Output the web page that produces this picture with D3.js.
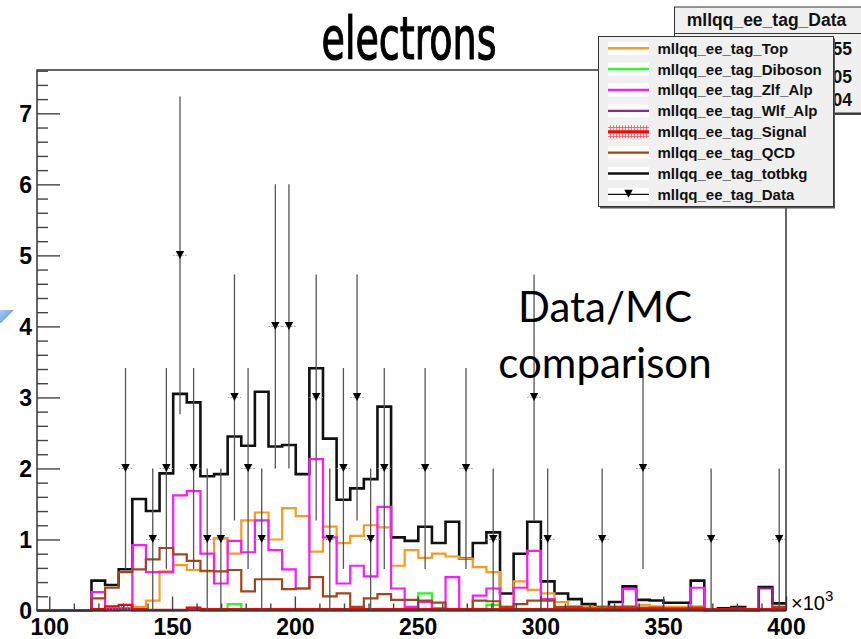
<!DOCTYPE html>
<html>
<head>
<meta charset="utf-8">
<script src="https://cdn.jsdelivr.net/npm/d3@7"></script>
<style>
body{margin:0;background:#fff;}
svg{display:block;}
</style>
</head>
<body>
<div class="graph"></div>
<script>
// x in units of 10^3, 55 bins between xMin and xMax
const xMin = 95, xMax = 400, nBins = 55;
const xTicks = [100,150,200,250,300,350,400];
const yTicks = [0,1,2,3,4,5,6,7];
const yMax = 7.61;

const binTotbkg = [0,0,0,0,0.42,0.36,0.58,1.57,1.40,1.93,
  3.05,2.93,1.89,1.92,2.45,2.32,3.08,2.31,2.33,1.92,
  3.41,2.42,1.56,1.72,1.85,2.87,1.03,0.98,1.18,0.95,
  1.25,0.73,0.95,1.10,0.24,0.80,1.25,0.41,0.24,0.16,
  0.09,0.05,0.12,0.34,0.15,0.14,0.11,0.11,0.42,0.01,
  0.03,0.05,0.01,0.33,0.10];
const binTop = [0,0,0,0,0,0,0,0.05,0.14,0.55,
  0.64,0.57,0.55,1.02,0.80,1.27,1.38,1.00,1.44,1.33,
  0.83,1.18,0.95,1.05,1.20,1.17,0.63,0.85,0.74,0.80,
  0.76,0.73,0.61,0.54,0.05,0.41,0.29,0.24,0.12,0.06,
  0.05,0.04,0.05,0.06,0.08,0.06,0.05,0.05,0.06,0.01,
  0.02,0.02,0.01,0.02,0.05];
const binDiboson = [0,0,0,0,0,0,0,0,0,0,
  0,0,0,0,0.09,0,0,0,0,0,
  0,0,0,0,0,0,0,0,0.24,0,
  0,0,0,0.08,0,0,0,0,0,0,
  0,0,0,0,0,0,0,0,0,0,
  0,0,0,0,0];
const binZlf = [0,0,0,0,0.26,0,0.03,0.92,0.54,0.54,
  1.62,1.68,0.80,0.38,0.98,0.82,1.27,0.85,0.58,0.31,
  2.13,1.03,0.38,0.63,0.48,1.46,0.31,0.05,0.12,0.03,
  0.47,0.02,0.21,0.31,0.04,0.32,0.84,0.16,0.02,0.01,
  0.01,0.01,0.01,0.30,0.01,0.01,0.01,0.01,0.32,0,
  0,0,0,0,0.01];
const binWlf = [0,0,0,0,0,0.02,0.02,0,0,0,
  0,0.02,0,0,0,0,0,0,0,0,
  0,0,0,0,0,0,0,0,0,0,
  0,0,0,0,0,0,0,0,0,0,
  0,0,0,0,0,0,0,0,0,0,
  0,0,0,0.31,0];
const binSignal = [0,0,0,0,0.02,0.06,0.08,0.02,0.01,0.01,
  0.01,0.04,0.02,0.02,0.02,0.02,0.02,0.02,0.02,0.02,
  0.02,0.02,0.02,0.02,0.02,0.02,0.02,0.02,0.02,0.02,
  0.02,0.02,0.02,0.02,0.02,0.02,0.02,0.02,0.02,0.02,
  0.02,0.02,0.02,0.02,0.02,0.02,0.02,0.02,0.02,0.02,
  0.02,0.02,0.02,0.02,0.02];
const binQCD = [0,0,0,0,0.17,0.32,0.54,0.58,0.72,0.88,
  0.79,0.70,0.56,0.55,0.57,0.27,0.44,0.44,0.30,0.31,
  0.47,0.20,0.24,0.05,0.17,0.23,0.15,0.15,0.14,0.11,
  0.02,0.02,0.14,0.13,0.05,0.09,0.14,0.14,0.05,0.05,
  0.03,0.03,0.05,0.05,0.04,0.04,0.03,0.03,0.04,0,
  0.02,0.03,0,0.02,0.05];
const dataCounts = [0,0,0,0,0,0,2,0,1,2,
  5,2,1,1,3,2,1,4,4,0,
  3,1,2,3,1,2,0,0,2,0,
  0,2,0,1,0,0,3,1,0,0,
  0,1,0,0,2,0,0,0,0,1,
  0,0,0,0,1];

const legendLabels = ["mllqq_ee_tag_Top","mllqq_ee_tag_Diboson","mllqq_ee_tag_Zlf_Alp",
  "mllqq_ee_tag_Wlf_Alp","mllqq_ee_tag_Signal","mllqq_ee_tag_QCD",
  "mllqq_ee_tag_totbkg","mllqq_ee_tag_Data"];
const statsTitle = "mllqq_ee_tag_Data";
const statsNames = ["Entries","Mean","RMS"];
const statsValues = ["55","2.105e+05","6.404e+04"];
const titleText = "electrons";
const noteLines = ["Data/MC","comparison"];

// ---------------- drawing ----------------
const width = 861, height = 639;
const frame = {left:37, right:786, top:70, bottom:610.5};

const svg = d3.select(".graph").append("svg")
  .attr("width",width).attr("height",height);

const defs = svg.append("defs");
const hatch = defs.append("pattern").attr("id","hatch")
  .attr("patternUnits","userSpaceOnUse").attr("width",3).attr("height",3);
hatch.append("path").attr("d","M1.5,0 V3 M0,1.5 H3")
  .attr("stroke","#ff5050").attr("stroke-width",0.8);
const grad = defs.append("linearGradient").attr("id","blue")
  .attr("x1",0).attr("y1",0).attr("x2",1).attr("y2",1);
grad.append("stop").attr("offset","0%").attr("stop-color","#a9cdf5");
grad.append("stop").attr("offset","100%").attr("stop-color","#4f8ad6");

const x = d3.scaleLinear().domain([xMin,xMax]).range([frame.left,frame.right]);
const y = d3.scaleLinear().domain([0,yMax]).range([frame.bottom,frame.top]);
const binW = (xMax-xMin)/nBins;
const edge = i => xMin + i*binW;

function stepPoints(vals){
  var pts=[];
  vals.forEach((v,i)=>{ pts.push([edge(i),v]); pts.push([edge(i+1),v]); });
  return pts;
}
const line = d3.line().x(d=>x(d[0])).y(d=>y(d[1]));

// histograms
var series = [
  {vals:binTotbkg, color:"#111", w:2.6},
  {vals:binTop, color:"#ff9a1f", w:2.2},
  {vals:binDiboson, color:"#22ff22", w:2.2},
  {vals:binZlf, color:"#ff19ff", w:2.2},
  {vals:binWlf, color:"#992299", w:2},
  {vals:binQCD, color:"#a3441c", w:2.2}
];
var gHist = svg.append("g");
series.forEach(s=>{
  gHist.append("path").attr("d",line(stepPoints(s.vals)))
    .attr("fill","none").attr("stroke",s.color).attr("stroke-width",s.w);
});
// signal with hatched fill
var sigPts = stepPoints(binSignal);
var area = d3.area().x(d=>x(d[0])).y0(y(0)).y1(d=>y(d[1]));
gHist.append("path").attr("d",area(sigPts)).attr("fill","url(#hatch)");
gHist.append("path").attr("d",line(sigPts))
  .attr("fill","none").attr("stroke","#ff0000").attr("stroke-width",2.2);

// data points
var pts = [];
dataCounts.forEach((n,i)=>{ if(n>0) pts.push({c:(edge(i)+edge(i+1))/2, n:n, i:i}); });
var gData = svg.append("g");
var err = gData.selectAll("g.pt").data(pts).enter().append("g").attr("class","pt");
err.append("line")
  .attr("x1",d=>x(d.c)).attr("x2",d=>x(d.c))
  .attr("y1",d=>y(d.n+Math.sqrt(d.n))).attr("y2",d=>y(Math.max(0,d.n-Math.sqrt(d.n))))
  .attr("stroke","#555").attr("stroke-width",1.3);
err.append("line")
  .attr("x1",d=>x(edge(d.i))).attr("x2",d=>x(edge(d.i+1)))
  .attr("y1",d=>y(d.n)).attr("y2",d=>y(d.n))
  .attr("stroke","#999").attr("stroke-width",1).attr("stroke-dasharray","1.5,1.5");
err.append("path")
  .attr("d",d=>{var cx=x(d.c), cy=y(d.n);
    return "M"+(cx-4.2)+","+(cy-4.5)+" L"+(cx+4.2)+","+(cy-4.5)+" L"+cx+","+(cy+3.5)+"Z";})
  .attr("fill","#000");

// axes
var axX = svg.append("g").attr("transform","translate(0,"+frame.bottom+")");
axX.call(d3.axisBottom(x).tickValues(xTicks).tickSize(-14).tickPadding(8));
var axXm = svg.append("g").attr("transform","translate(0,"+frame.bottom+")");
axXm.call(d3.axisBottom(x).tickValues(d3.range(100,401,10).filter(v=>v%50)).tickSize(-7).tickFormat(""));
var axY = svg.append("g").attr("transform","translate("+frame.left+",0)");
axY.call(d3.axisLeft(y).tickValues(yTicks).tickSize(-23).tickPadding(5));
var axYm = svg.append("g").attr("transform","translate("+frame.left+",0)");
axYm.call(d3.axisLeft(y).tickValues(d3.range(0,yMax,0.2).filter(v=>Math.abs(v-Math.round(v))>0.01)).tickSize(-11).tickFormat(""));
[axX,axXm,axY,axYm].forEach(a=>{
  a.select(".domain").remove();
  a.selectAll(".tick line").attr("stroke","#444").attr("stroke-width",1.4);
});
axX.selectAll("text").attr("font-family","Liberation Sans, Arial, sans-serif")
  .attr("font-weight","bold").attr("font-size",23).attr("fill","#000").attr("dy","0.72em");
axY.selectAll("text").attr("font-family","Liberation Sans, Arial, sans-serif")
  .attr("font-weight","bold").attr("font-size",23).attr("fill","#000").attr("dy","0.36em");

// frame
svg.append("rect").attr("x",frame.left).attr("y",frame.top)
  .attr("width",frame.right-frame.left).attr("height",frame.bottom-frame.top)
  .attr("fill","none").attr("stroke","#333").attr("stroke-width",1.5);

// x10^3
var exp = svg.append("text").attr("x",791).attr("y",610)
  .attr("font-family","Liberation Sans, Arial, sans-serif").attr("font-size",20).attr("fill","#000");
exp.append("tspan").text("\u00d710");
exp.append("tspan").attr("dy",-9).attr("font-size",15).text("3");

// title
svg.append("text").attr("x",409).attr("y",59)
  .attr("text-anchor","middle")
  .attr("font-family","DejaVu Sans Condensed, DejaVu Sans, sans-serif")
  .attr("font-stretch","condensed")
  .attr("font-size",58).attr("fill","#000")
  .attr("stroke","#000").attr("stroke-width",1.1)
  .attr("textLength",175).attr("lengthAdjust","spacingAndGlyphs")
  .text(titleText);

// stats box (partly hidden by legend)
var gStat = svg.append("g");
gStat.append("rect").attr("x",676).attr("y",9).attr("width",200).attr("height",106).attr("fill","#444");
gStat.append("rect").attr("x",674.5).attr("y",7).attr("width",200).attr("height",106)
  .attr("fill","#f0f0f0").attr("stroke","#333").attr("stroke-width",1);
gStat.append("line").attr("x1",674.5).attr("x2",874).attr("y1",33.5).attr("y2",33.5)
  .attr("stroke","#333").attr("stroke-width",1);
gStat.append("text").attr("x",766.5).attr("y",26).attr("text-anchor","middle")
  .attr("font-family","Liberation Sans, Arial, sans-serif").attr("font-weight","bold")
  .attr("font-size",17.5).attr("fill","#111").text(statsTitle);
var statY = [54.5, 82.5, 106];
statsNames.forEach((n,i)=>{
  gStat.append("text").attr("x",682).attr("y",statY[i])
    .attr("font-family","Liberation Sans, Arial, sans-serif").attr("font-weight","bold")
    .attr("font-size",17.5).attr("fill","#111").text(n);
  gStat.append("text").attr("x",852).attr("y",statY[i]).attr("text-anchor","end")
    .attr("font-family","Liberation Sans, Arial, sans-serif").attr("font-weight","bold")
    .attr("font-size",17.5).attr("fill","#111").text(statsValues[i]);
});

// legend
var legStyle = [
  {color:"#ff9a1f"},{color:"#22ff22"},{color:"#ff19ff"},{color:"#992299"},
  {color:"#ff0000", hatch:true},{color:"#a3441c"},{color:"#111"},{color:"#111", marker:true}
];
var gLeg = svg.append("g");
gLeg.append("rect").attr("x",600).attr("y",38.5).attr("width",235).attr("height",170).attr("fill","#555");
gLeg.append("rect").attr("x",598.5).attr("y",36.5).attr("width",235).attr("height",170)
  .attr("fill","#f0f0f0").attr("stroke","#333").attr("stroke-width",1);
legendLabels.forEach((lab,i)=>{
  var cy = 48.3 + i*20.86, st = legStyle[i];
  gLeg.append("rect").attr("x",608).attr("y",cy-6.5).attr("width",41).attr("height",13)
    .attr("fill", st.hatch ? "url(#hatch)" : "#fff");
  gLeg.append("line").attr("x1",608).attr("x2",649).attr("y1",cy).attr("y2",cy)
    .attr("stroke",st.color).attr("stroke-width",st.marker?1.3:2.4);
  if(st.marker){
    gLeg.append("path").attr("d","M"+(628.5-4.2)+","+(cy-4.5)+" L"+(628.5+4.2)+","+(cy-4.5)+" L628.5,"+(cy+3.5)+"Z")
      .attr("fill","#000");
  }
  gLeg.append("text").attr("x",657.5).attr("y",cy).attr("dy","0.36em")
    .attr("font-family","Liberation Sans, Arial, sans-serif").attr("font-weight","bold")
    .attr("font-size",15).attr("fill","#111").text(lab);
});

// annotation
noteLines.forEach((t,i)=>{
  svg.append("text").attr("x",605).attr("y",[321.5,378][i]).attr("text-anchor","middle")
    .attr("font-family","Lato, Open Sans, sans-serif").attr("font-size",42).attr("fill","#000")
    .text(t);
});

// blue arrow tip at the left edge
svg.append("path").attr("d","M0,310 L14,310 L1,323 L0,323Z").attr("fill","url(#blue)");
</script>
</body>
</html>
